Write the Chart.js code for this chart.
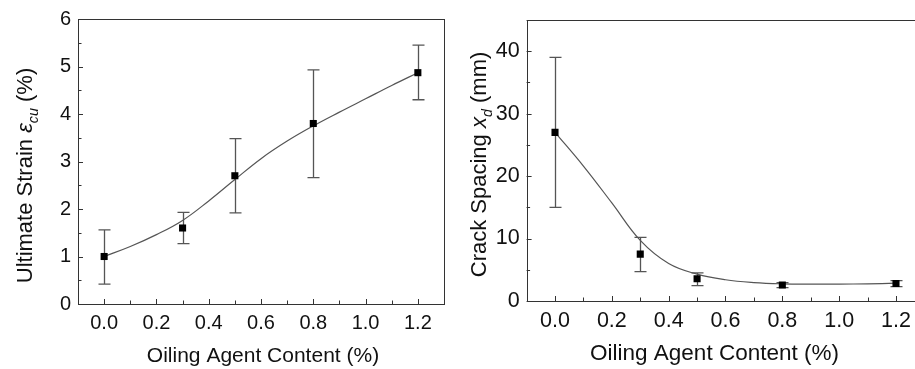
<!DOCTYPE html>
<html>
<head>
<meta charset="utf-8">
<script src="https://cdn.jsdelivr.net/npm/chart.js@4.4.0/dist/chart.umd.min.js"></script>
<style>
  html, body { margin: 0; padding: 0; background: #fff; overflow: hidden; }
  #wrap { position: relative; width: 915px; height: 369px; overflow: hidden; }
  #chartStrain { position: absolute; left: 0; top: 0; }
  #chartSpacing { position: absolute; left: 455px; top: 0; }
</style>
</head>
<body>
<div id="wrap">
  <canvas id="chartStrain" width="460" height="369"></canvas>
  <canvas id="chartSpacing" width="480" height="369"></canvas>
</div>
<script>
// Contenido de agente aceitante (%) - eje X de ambos gráficos
var oilContent = [0, 0.3, 0.5, 0.8, 1.2];

// Deformación última (%) y sus barras de error
var strainMean = [1.0, 1.6, 2.7, 3.8, 4.87];
var strainLow  = [0.42, 1.27, 1.92, 2.66, 4.3];
var strainHigh = [1.56, 1.93, 3.48, 4.93, 5.45];

// Separación de fisuras (mm) y sus barras de error
var spacingMean = [27.0, 7.5, 3.55, 2.55, 2.8];
var spacingLow  = [15.0, 4.7, 2.45, 2.15, 2.3];
var spacingHigh = [39.0, 10.2, 4.5, 2.95, 3.25];

// Curvas de ajuste leídas cada 0.1
var fitX       = [0, 0.1, 0.2, 0.3, 0.4, 0.5, 0.6, 0.7, 0.8, 0.9, 1.0, 1.1, 1.2];
var strainFit  = [1.0, 1.21, 1.46, 1.76, 2.17, 2.62, 3.06, 3.43, 3.75, 4.04, 4.32, 4.6, 4.87];
var spacingFit = [27.0, 21.6, 15.7, 9.7, 6.0, 4.3, 3.4, 2.95, 2.75, 2.7, 2.7, 2.75, 2.85];

// Etiquetas de los ejes
var xTicks = [0, 0.2, 0.4, 0.6, 0.8, 1.0, 1.2];
var strainTicks = [0, 1, 2, 3, 4, 5, 6];
var spacingTicks = [0, 10, 20, 30, 40];

var FONT = "'Liberation Sans', Arial, sans-serif";

function puntos(xs, ys) {
    return xs.map(function (x, i) { return { x: x, y: ys[i] }; });
}

// Plugin: barras de error, marco y marcas hacia dentro
var marcoPlugin = {
    id: 'marco',
    beforeDatasetsDraw: function (chart) {
        var ctx = chart.ctx, xs = chart.scales.x, ys = chart.scales.y;
        var ds = chart.data.datasets[0];
        ctx.save();
        ctx.strokeStyle = '#555';
        ctx.lineWidth = 1.3;
        ds.data.forEach(function (p, i) {
            var px = Math.round(xs.getPixelForValue(p.x)) + 0.5;
            var y1 = ys.getPixelForValue(ds.errLow[i]);
            var y2 = ys.getPixelForValue(ds.errHigh[i]);
            ctx.beginPath();
            ctx.moveTo(px, y1); ctx.lineTo(px, y2);
            ctx.moveTo(px - 6, y1); ctx.lineTo(px + 6, y1);
            ctx.moveTo(px - 6, y2); ctx.lineTo(px + 6, y2);
            ctx.stroke();
        });
        ctx.restore();
    },
    afterDraw: function (chart) {
        var ctx = chart.ctx, a = chart.chartArea;
        var xs = chart.scales.x, ys = chart.scales.y;
        var opt = chart.options.plugins.marco;
        ctx.save();
        ctx.strokeStyle = '#333';
        ctx.lineWidth = 1;
        ctx.strokeRect(Math.round(a.left) + 0.5, Math.round(a.top) + 0.5,
                       Math.round(a.right - a.left), Math.round(a.bottom - a.top));
        ctx.beginPath();
        // marcas del eje X cada 0.1
        for (var i = -1; i <= 13; i++) {
            var px = Math.round(xs.getPixelForValue(i / 10)) + 0.5;
            var len = (i % 2 === 0) ? 5 : 3.5;
            ctx.moveTo(px, a.bottom);
            ctx.lineTo(px, a.bottom - len);
        }
        // marcas del eje Y (mayores y menores)
        for (var k = 0; k * opt.yMinor <= ys.max; k++) {
            var v = k * opt.yMinor;
            var py = Math.round(ys.getPixelForValue(v)) + 0.5;
            var l = (k % 2 === 0) ? 5 : 3.5;
            ctx.moveTo(a.left, py);
            ctx.lineTo(a.left + l, py);
        }
        ctx.stroke();

        // títulos de los ejes
        ctx.fillStyle = '#111';
        ctx.textBaseline = 'alphabetic';
        ctx.textAlign = 'center';
        ctx.font = opt.xTitleSize + 'px ' + FONT;
        ctx.fillText('Oiling Agent Content (%)', (a.left + a.right) / 2 + opt.xTitleShift, a.bottom + opt.xTitleGap);

        ctx.textAlign = 'left';
        var f = opt.yTitleSize;
        var medir = function (p) {
            var size = p.sub ? f * 0.65 : f;
            ctx.font = (p.italic ? 'italic ' : '') + size + 'px ' + FONT;
            return ctx.measureText(p.text).width;
        };
        var total = opt.yTitle.reduce(function (s, p) { return s + medir(p); }, 0);
        ctx.translate(a.left - opt.yTitleGap, (a.top + a.bottom) / 2 + opt.yTitleShift);
        ctx.rotate(-Math.PI / 2);
        var cx = -total / 2;
        opt.yTitle.forEach(function (p) {
            var w = medir(p);
            ctx.fillText(p.text, cx, p.sub ? f * 0.28 : 0);
            cx += w;
        });
        ctx.restore();
    }
};

function crearGrafico(id, cfg) {
    var ctx = document.getElementById(id).getContext('2d');
    return new Chart(ctx, {
        type: 'line',
        data: {
            datasets: [{
                data: puntos(oilContent, cfg.mean),
                errLow: cfg.low,
                errHigh: cfg.high,
                showLine: false,
                pointStyle: 'rect',
                pointRadius: 5,
                pointBackgroundColor: '#000',
                pointBorderWidth: 0
            }, {
                data: puntos(fitX, cfg.fit),
                borderColor: '#555',
                borderWidth: 1.2,
                pointRadius: 0,
                tension: 0.4,
                fill: false
            }]
        },
        options: {
            responsive: false,
            animation: false,
            layout: { padding: cfg.padding },
            plugins: {
                legend: { display: false },
                tooltip: { enabled: false },
                marco: cfg.marco
            },
            scales: {
                x: {
                    type: 'linear',
                    min: -0.1,
                    max: 1.3,
                    grid: { display: false, drawTicks: false },
                    border: { display: false },
                    afterBuildTicks: function (s) { s.ticks = xTicks.map(function (v) { return { value: v }; }); },
                    afterFit: function (s) { s.height = cfg.xHeight; },
                    ticks: {
                        padding: cfg.xPad,
                        maxRotation: 0,
                        color: '#111',
                        font: { family: FONT, size: cfg.tickSize },
                        callback: function (v) { return v.toFixed(1); }
                    }
                },
                y: {
                    type: 'linear',
                    min: 0,
                    max: cfg.yMax,
                    grid: { display: false, drawTicks: false },
                    border: { display: false },
                    afterBuildTicks: function (s) { s.ticks = cfg.yTicks.map(function (v) { return { value: v }; }); },
                    afterFit: function (s) { s.width = cfg.yWidth; },
                    ticks: {
                        padding: cfg.yPad,
                        color: '#111',
                        font: { family: FONT, size: cfg.tickSize },
                        callback: function (v) { return String(v); }
                    }
                }
            }
        },
        plugins: [marcoPlugin]
    });
}

// Deformación última
var chartStrain = crearGrafico('chartStrain', {
    mean: strainMean, low: strainLow, high: strainHigh, fit: strainFit,
    yMax: 6, yTicks: strainTicks,
    padding: { left: 0, top: 19, right: 16, bottom: 0 },
    yWidth: 78, xHeight: 65, xPad: 7, yPad: 7, tickSize: 20,
    marco: {
        yMinor: 0.5,
        xTitleSize: 21, xTitleShift: 2, xTitleGap: 58,
        yTitleSize: 22, yTitleGap: 46, yTitleShift: 14,
        yTitle: [
            { text: 'Ultimate Strain ' },
            { text: 'ε', italic: true },
            { text: 'cu', italic: true, sub: true },
            { text: ' (%)' }
        ]
    }
});

// Separación de fisuras
var chartSpacing = crearGrafico('chartSpacing', {
    mean: spacingMean, low: spacingLow, high: spacingHigh, fit: spacingFit,
    yMax: 45, yTicks: spacingTicks,
    padding: { left: 0, top: 17, right: 10.6, bottom: 0 },
    yWidth: 71.6, xHeight: 68, xPad: 7, yPad: 7, tickSize: 21.5,
    marco: {
        yMinor: 5,
        xTitleSize: 22.5, xTitleShift: -11, xTitleGap: 59,
        yTitleSize: 22, yTitleGap: 41, yTitleShift: 4,
        yTitle: [
            { text: 'Crack Spacing ' },
            { text: 'x', italic: true },
            { text: 'd', italic: true, sub: true },
            { text: ' (mm)' }
        ]
    }
});
</script>
</body>
</html>
